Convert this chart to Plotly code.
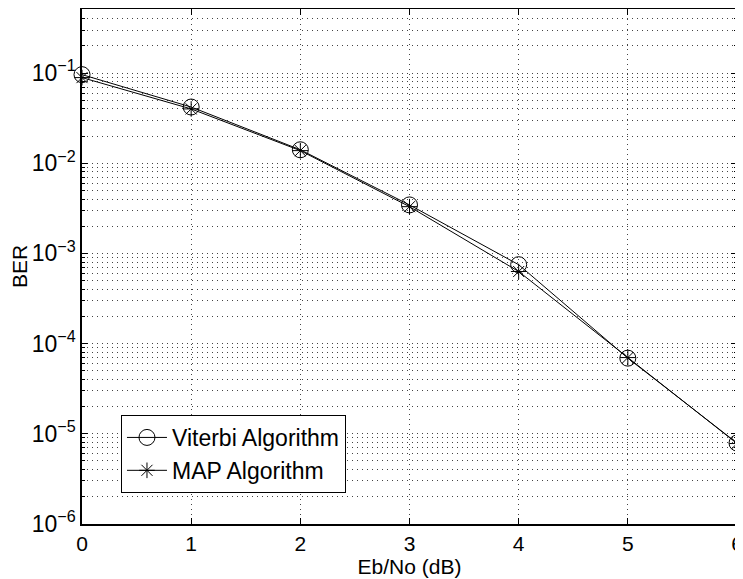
import plotly.graph_objects as go

ebno = [0, 1, 2, 3, 4, 5, 6]
ber_viterbi = [0.096, 0.042, 0.0141, 3.45e-3, 7.5e-4, 6.9e-5, 7.9e-6]
ber_map = [0.089, 0.040, 0.0138, 3.3e-3, 6.3e-4, 7.0e-5, 7.8e-6]

y_major = [1e-6, 1e-5, 1e-4, 1e-3, 1e-2, 1e-1]
y_major_text = ["10<sup>\u22126</sup>", "10<sup>\u22125</sup>", "10<sup>\u22124</sup>",
                "10<sup>\u22123</sup>", "10<sup>\u22122</sup>", "10<sup>\u22121</sup>"]
y_minor = [m * 10.0 ** d for d in range(-6, 0) for m in range(2, 10) if m * 10.0 ** d < 0.52]

GRID = "#444444"
DASH = "1px,4px"

fig = go.Figure()
fig.add_trace(go.Scatter(x=ebno, y=ber_viterbi, mode="lines+markers", name="Viterbi Algorithm",
                         line=dict(color="black", width=1), cliponaxis=False,
                         marker=dict(symbol="circle-open", size=16, color="black", line=dict(width=1))))
fig.add_trace(go.Scatter(x=ebno, y=ber_map, mode="lines+markers", name="MAP Algorithm",
                         line=dict(color="black", width=1), cliponaxis=False,
                         marker=dict(symbol="asterisk-open", size=13, color="black", line=dict(width=1))))

fig.update_layout(
    width=735, height=571,
    margin=dict(l=74, r=6, t=1, b=55, autoexpand=False),
    paper_bgcolor="white", plot_bgcolor="white",
    font=dict(family="Liberation Sans, Arial, sans-serif", color="black", size=22),
    legend=dict(x=0.0595, y=0.2117, xanchor="left", yanchor="top",
                bordercolor="black", borderwidth=1, bgcolor="white",
                font=dict(size=23), itemwidth=40, tracegroupgap=0),
)
fig.update_xaxes(range=[0, 6], tickvals=ebno, showline=True, linecolor="black", linewidth=1.5,
                 mirror="ticks", ticks="inside", ticklen=6, tickcolor="black",
                 showgrid=True, gridcolor=GRID, griddash=DASH, gridwidth=1,
                 zeroline=False, tickfont=dict(size=21), automargin=False,
                 ticklabeloverflow="allow",
                 title=dict(text="Eb/No (dB)", font=dict(size=21), standoff=3))
fig.update_yaxes(type="log", range=[-6, -0.29], tickvals=y_major, ticktext=y_major_text,
                 showline=True, linecolor="black", linewidth=1.5,
                 mirror="ticks", ticks="inside", ticklen=6, tickcolor="black",
                 showgrid=True, gridcolor=GRID, griddash=DASH, gridwidth=1,
                 zeroline=False, tickfont=dict(size=23), automargin=False,
                 minor=dict(tickvals=y_minor, ticks="inside", ticklen=3, tickcolor="black",
                            showgrid=True, gridcolor=GRID, griddash=DASH, gridwidth=1),
                 title=dict(text="BER", font=dict(size=21), standoff=1))

fig.write_html("out.html")
